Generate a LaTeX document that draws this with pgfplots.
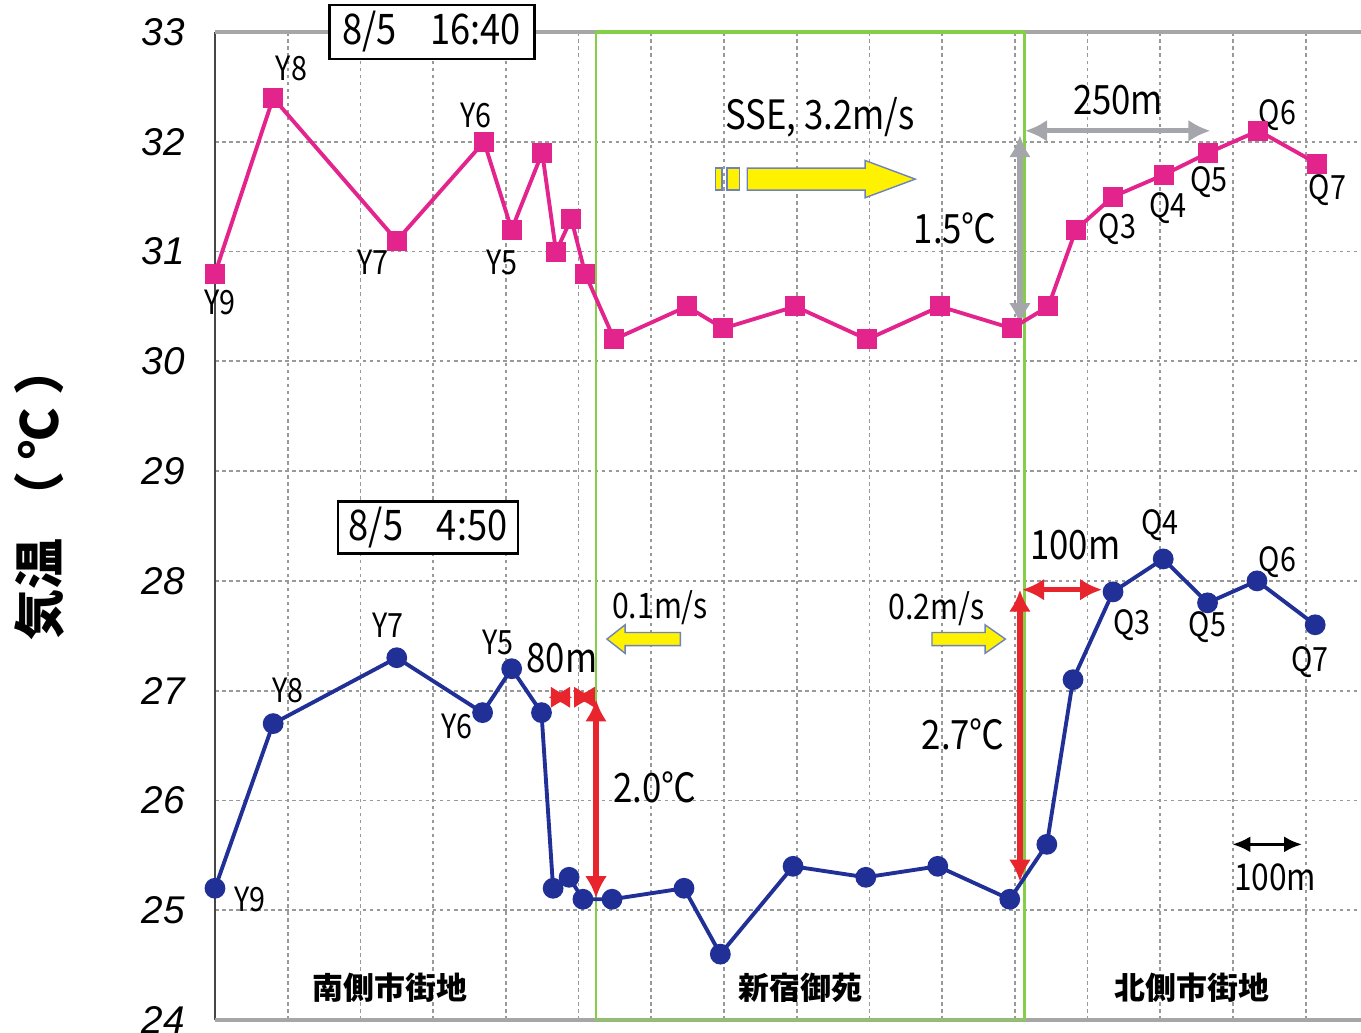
\documentclass[border=0pt]{standalone}
\usepackage{fontspec}
\setmainfont{Liberation Sans}
\newfontfamily\jp{Noto Sans CJK JP}
\newfontfamily\jpn[FakeStretch=0.86]{Noto Sans CJK JP}
\usepackage{pgfplots}
\pgfplotsset{compat=1.18}
\usetikzlibrary{arrows.meta}

\definecolor{pinkline}{RGB}{226,36,140}
\definecolor{navy}{RGB}{32,48,150}
\definecolor{redarr}{RGB}{232,36,44}
\definecolor{parkgreen}{RGB}{132,206,72}
\definecolor{grayarr}{RGB}{165,165,172}
\definecolor{arrowedge}{RGB}{110,130,190}

\tikzset{
  lab/.style={font=\jpn\fontsize{9.5}{9.5}\selectfont, inner sep=0pt},
  big/.style={font=\jpn\fontsize{11.5}{11.5}\selectfont, inner sep=0pt},
  area/.style={font=\jp\bfseries\fontsize{8.8}{8.8}\selectfont, inner sep=0pt},
  yarrow/.style={fill=yellow, draw=arrowedge, line width=0.4pt},
  rarrow/.style={redarr, line width=1.5pt, {Latex[length=2.2mm,width=2.2mm]}-{Latex[length=2.2mm,width=2.2mm]}},
  garrow/.style={grayarr, line width=1.5pt, {Latex[length=2.2mm,width=2.2mm]}-{Latex[length=2.2mm,width=2.2mm]}},
}

\begin{document}
\begin{tikzpicture}
\begin{axis}[
  width=114.6mm, height=98.8mm, scale only axis,
  xmin=0, xmax=1576, ymin=24, ymax=33,
  xtick={0,100,...,1500}, xticklabels={},
  ytick={24,25,...,33},
  yticklabel style={font=\itshape\fontsize{11}{11}\selectfont, xshift=-1.8mm},
  /pgf/number format/assume math mode=true,
  major tick length=0pt,
  grid=major,
  major grid style={draw=gray!80, dash pattern=on 1pt off 1pt, line width=0.5pt},
  axis line style={draw=none},
  clip=false,
]
% frame lines
\draw[gray!55!black, line width=0.8pt] (rel axis cs:0,0) -- (rel axis cs:0,1);
\draw[gray!70, line width=1pt] (rel axis cs:0,1) -- (rel axis cs:1,1);
\draw[gray!70, line width=1.3pt] (rel axis cs:0,0) -- (rel axis cs:1,0);

% park area
\draw[parkgreen, line width=0.8pt] (axis cs:524,24) rectangle (axis cs:1113,33);
\draw[parkgreen, line width=1.4pt] (axis cs:524,33) -- (axis cs:1113,33);

% 8/5 16:40
\addplot[pinkline, line width=1.1pt, mark=square*, mark size=2.3pt] coordinates {
  (0,30.8) (80,32.4) (250,31.1) (370,32.0) (408,31.2) (450,31.9) (469,31.0)
  (490,31.3) (509,30.8) (549,30.2) (649,30.5) (699,30.3) (798,30.5) (897,30.2)
  (997,30.5) (1096,30.3) (1146,30.5) (1184,31.2) (1235,31.5) (1305,31.7)
  (1366,31.9) (1435,32.1) (1516,31.8)
};
% 8/5 4:50
\addplot[navy, line width=1.1pt, mark=*, mark size=2.4pt] coordinates {
  (0,25.2) (80,26.7) (250,27.3) (368,26.8) (408,27.2) (449,26.8) (465,25.2)
  (487,25.3) (506,25.1) (546,25.1) (645,25.2) (695,24.6) (795,25.4) (895,25.3)
  (994,25.4) (1093,25.1) (1144,25.6) (1180,27.1) (1235,27.9) (1304,28.2)
  (1365,27.8) (1433,28.0) (1513,27.6)
};

% time boxes
\node[draw=black, line width=0.8pt, fill=white, minimum width=20.5mm, minimum height=5.4mm, inner sep=0pt,
  font=\jpn\fontsize{12}{12}\selectfont] at (axis cs:298,33.0) {8/5\hspace{0.8em}16:40};
\node[draw=black, line width=0.8pt, fill=white, minimum width=18mm, minimum height=5.2mm, inner sep=0pt,
  font=\jpn\fontsize{12}{12}\selectfont] at (axis cs:293,28.49) {8/5\hspace{0.8em}4:50};

% wind arrows
\filldraw[yarrow] (axis cs:688,31.56) rectangle (axis cs:697,31.76);
\filldraw[yarrow] (axis cs:704,31.56) rectangle (axis cs:721,31.76);
\filldraw[yarrow] (axis cs:732,31.56) -- (axis cs:894,31.56) -- (axis cs:894,31.49) -- (axis cs:963,31.66)
  -- (axis cs:894,31.83) -- (axis cs:894,31.76) -- (axis cs:732,31.76) -- cycle;
\filldraw[yarrow] (axis cs:640,27.41) -- (axis cs:564,27.41) -- (axis cs:564,27.34) -- (axis cs:539,27.47)
  -- (axis cs:564,27.60) -- (axis cs:564,27.53) -- (axis cs:640,27.53) -- cycle;
\filldraw[yarrow] (axis cs:986,27.41) -- (axis cs:1059,27.41) -- (axis cs:1059,27.34) -- (axis cs:1087,27.47)
  -- (axis cs:1059,27.60) -- (axis cs:1059,27.53) -- (axis cs:986,27.53) -- cycle;

% gray arrows (daytime)
\draw[garrow] (axis cs:1107,30.33) -- (axis cs:1107,32.06);
\draw[garrow] (axis cs:1114,32.1) -- (axis cs:1369,32.1);

% red arrows (night)
\draw[rarrow] (axis cs:458,26.94) -- (axis cs:492,26.94);
\draw[rarrow] (axis cs:492,26.94) -- (axis cs:524,26.94);
\draw[rarrow] (axis cs:524,25.11) -- (axis cs:524,26.92);
\draw[rarrow] (axis cs:1107,25.26) -- (axis cs:1107,27.92);
\draw[rarrow] (axis cs:1110,27.92) -- (axis cs:1220,27.92);

% scale bar
\draw[black, line width=0.9pt, {Latex[length=1.8mm,width=1.6mm]}-{Latex[length=1.8mm,width=1.6mm]}]
  (axis cs:1399,25.6) -- (axis cs:1495,25.6);

% annotation text
\node[big] at (axis cs:832,32.22) {SSE, 3.2m/s};
\node[big] at (axis cs:1018,31.21) {1.5℃};
\node[big] at (axis cs:1242,32.38) {250m};
\node[lab, font=\jpn\fontsize{10}{10}\selectfont] at (axis cs:612,27.76) {0.1m/s};
\node[lab, font=\jpn\fontsize{10}{10}\selectfont] at (axis cs:992,27.75) {0.2m/s};
\node[big] at (axis cs:477,27.30) {80m};
\node[big] at (axis cs:605,26.12) {2.0℃};
\node[big] at (axis cs:1029,26.60) {2.7℃};
\node[big] at (axis cs:1183,28.33) {100m};
\node[lab, font=\jpn\fontsize{10.5}{10.5}\selectfont] at (axis cs:1458,25.30) {100m};

% point labels, daytime
\node[lab] at (axis cs:7,30.54) {Y9};
\node[lab] at (axis cs:105,32.67) {Y8};
\node[lab] at (axis cs:217,30.90) {Y7};
\node[lab] at (axis cs:359,32.24) {Y6};
\node[lab] at (axis cs:395,30.90) {Y5};
\node[lab] at (axis cs:1241,31.20) {Q3};
\node[lab] at (axis cs:1311,31.40) {Q4};
\node[lab] at (axis cs:1367,31.63) {Q5};
\node[lab] at (axis cs:1461,32.24) {Q6};
\node[lab] at (axis cs:1530,31.56) {Q7};

% point labels, night
\node[lab] at (axis cs:48,25.10) {Y9};
\node[lab] at (axis cs:100,27.00) {Y8};
\node[lab] at (axis cs:238,27.60) {Y7};
\node[lab] at (axis cs:333,26.67) {Y6};
\node[lab] at (axis cs:389,27.44) {Y5};
\node[lab] at (axis cs:1261,27.60) {Q3};
\node[lab] at (axis cs:1300,28.51) {Q4};
\node[lab] at (axis cs:1365,27.58) {Q5};
\node[lab] at (axis cs:1461,28.17) {Q6};
\node[lab] at (axis cs:1506,27.26) {Q7};

% areas
\node[area] at (axis cs:241,24.29) {南側市街地};
\node[area] at (axis cs:805,24.29) {新宿御苑};
\node[area] at (axis cs:1344,24.29) {北側市街地};

% y label
\node[rotate=90, inner sep=0pt, font=\jp\bfseries\fontsize{14.5}{14.5}\selectfont]
  at (rel axis cs:-0.153,0.534) {気温\hspace{0.3em}（\hspace{0.25em}℃\hspace{0.25em}）};
\end{axis}
\pgfresetboundingbox
\path[use as bounding box] (-21.5mm,-1.2mm) rectangle (114.6mm,102mm);
\end{tikzpicture}
\end{document}
